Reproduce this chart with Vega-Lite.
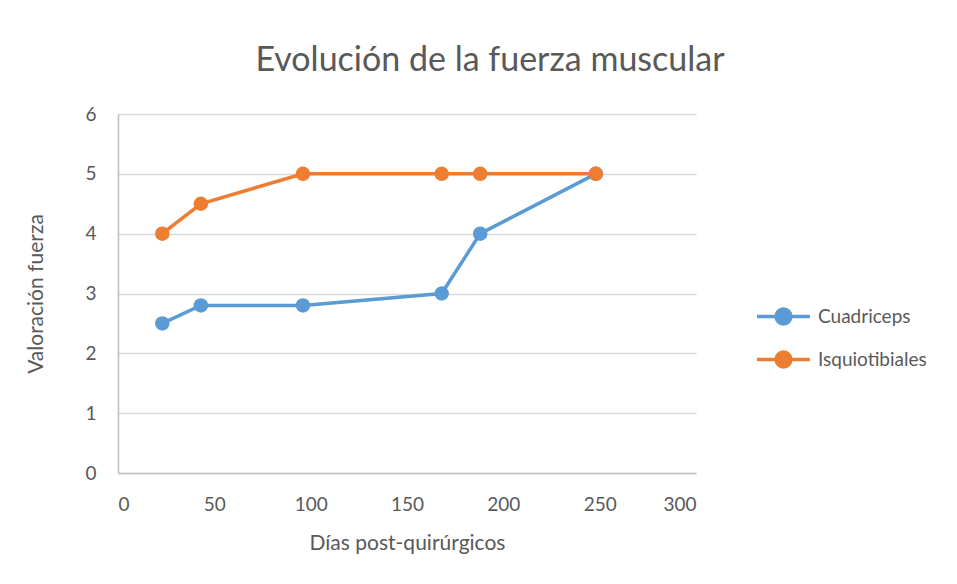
{
  "$schema": "https://vega.github.io/schema/vega-lite/v6.json",
  "width": 578,
  "height": 359,
  "autosize": {"type": "none"},
  "padding": {"left": 118, "top": 114, "right": 261, "bottom": 111},
  "background": "white",
  "config": {
    "font": "Lato",
    "view": {"stroke": null},
    "axis": {"labelFont": "Lato", "titleFont": "Lato", "labelColor": "#595959", "titleColor": "#595959", "labelFontSize": 19, "titleFontSize": 21, "titleFontWeight": "normal", "ticks": false, "gridColor": "#D9D9D9", "gridWidth": 1.3, "domainColor": "#BFBFBF", "domainWidth": 1.5}
  },
  "title": {
    "text": "Evolución de la fuerza muscular",
    "font": "Lato",
    "fontSize": 34,
    "fontWeight": "normal",
    "color": "#595959",
    "anchor": "middle",
    "dx": 83,
    "offset": 27
  },
  "data": {
    "values": [
      {"dias": 23, "valor": 2.5, "serie": "Cuadriceps"},
      {"dias": 43, "valor": 2.8, "serie": "Cuadriceps"},
      {"dias": 96, "valor": 2.8, "serie": "Cuadriceps"},
      {"dias": 168, "valor": 3, "serie": "Cuadriceps"},
      {"dias": 188, "valor": 4, "serie": "Cuadriceps"},
      {"dias": 248, "valor": 5, "serie": "Cuadriceps"},
      {"dias": 23, "valor": 4, "serie": "Isquiotibiales"},
      {"dias": 43, "valor": 4.5, "serie": "Isquiotibiales"},
      {"dias": 96, "valor": 5, "serie": "Isquiotibiales"},
      {"dias": 168, "valor": 5, "serie": "Isquiotibiales"},
      {"dias": 188, "valor": 5, "serie": "Isquiotibiales"},
      {"dias": 248, "valor": 5, "serie": "Isquiotibiales"}
    ]
  },
  "encoding": {
    "x": {"field": "dias", "type": "quantitative", "scale": {"domain": [0, 300], "nice": false}, "axis": {"title": "Días post-quirúrgicos", "values": [0, 50, 100, 150, 200, 250, 300], "grid": false, "labelPadding": 22, "titlePadding": 18}},
    "y": {"field": "valor", "type": "quantitative", "scale": {"domain": [0, 6], "nice": false}, "axis": {"title": "Valoración fuerza", "values": [0, 1, 2, 3, 4, 5, 6], "labelPadding": 22, "titlePadding": 38}},
    "color": {"field": "serie", "type": "nominal", "scale": {"domain": ["Cuadriceps", "Isquiotibiales"], "range": ["#5B9BD5", "#ED7D31"]},
      "legend": {"title": null, "orient": "none", "legendX": 637, "legendY": 174, "labelFont": "Lato", "labelFontSize": 19, "labelColor": "#595959", "rowPadding": -7, "labelOffset": 6,
        "symbolType": "M-1,0H1M0.28,0A0.28,0.28,0,1,1,-0.28,0A0.28,0.28,0,1,1,0.28,0Z", "symbolSize": 2800, "symbolStrokeWidth": 3.5}}
  },
  "layer": [
    {"mark": {"type": "line", "strokeWidth": 3.5}},
    {"mark": {"type": "point", "filled": true, "size": 210, "opacity": 1}}
  ]
}
